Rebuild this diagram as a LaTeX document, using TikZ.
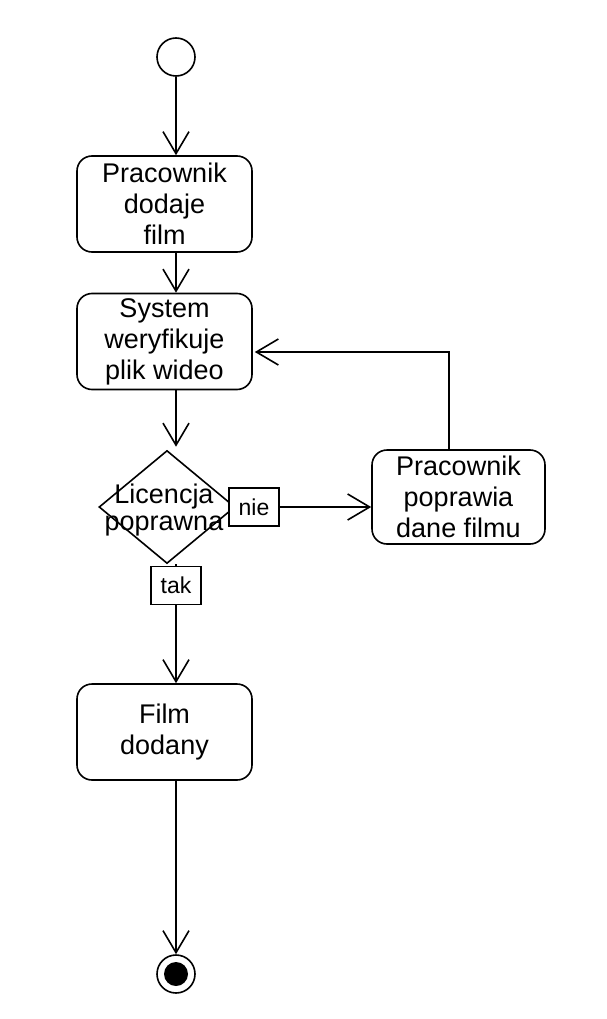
\documentclass[tikz,border=0pt]{standalone}
\usepackage{fontspec}
\setmainfont{Liberation Sans}
\usetikzlibrary{arrows.meta,shapes.geometric}
\begin{document}
\begin{tikzpicture}[x=1pt,y=-1pt,
  every path/.style={line width=1.6pt},
  act/.style={draw, line width=1.6pt, rounded corners=15pt, minimum width=175pt, minimum height=96pt, inner sep=0pt, align=center, font=\fontsize{27}{31}\selectfont},
  lab/.style={draw, fill=white, line width=1.6pt, minimum width=50pt, minimum height=38pt, inner sep=0pt, font=\fontsize{23}{25}\selectfont},
  arr/.style={line width=1.6pt, -{Straight Barb[length=22pt,width=26pt]}}]
\useasboundingbox (0,0) rectangle (606,1019);
% nodes
\node[circle, draw, line width=1.6pt, minimum size=38pt, inner sep=0pt] (start) at (176,57) {};
\node[act] (a1) at (164.5,204) {Pracownik\\dodaje\\film};
\node[act] (a2) at (164.5,341.5) {System\\weryfikuje\\plik wideo};
\node[diamond, draw, line width=1.6pt, minimum width=136pt, minimum height=113pt, inner sep=0pt] (dec) at (167,507) {};
\node[align=center, font=\fontsize{27}{27}\selectfont, inner sep=0pt] (dect) at (164,510) {Licencja\\poprawna};
\node[lab] (nie) at (254,507) {nie};
\node[lab] (tak) at (176,585.5) {tak};
\node[act, minimum width=173pt, minimum height=94pt] (a3) at (458.5,497) {Pracownik\\poprawia\\dane filmu};
\node[act] (a4) at (164.5,732) {Film\\dodany};
\node[circle, draw, line width=1.6pt, minimum size=38pt, inner sep=0pt] (end) at (176,974) {};
\node[circle, fill=black, minimum size=24pt, inner sep=0pt] (endin) at (end.center) {};
% connectors
\draw[arr] (start.south) -- (start.south |- a1.north);
\draw[arr] (a1.south -| start) -- (a2.north -| start);
\draw[arr] (a2.south -| start) -- ([yshift=3pt]dec.north -| start);
\draw (dec.south -| tak) -- (tak.north);
\draw[arr] (tak.south) -- (tak.south |- a4.north);
\draw[arr] (a4.south -| end) -- (end.north);
\draw[arr] (nie.east) -- (nie.east -| a3.west);
\draw[arr] ([xshift=-9.5pt]a3.north) |- ([yshift=-10.5pt,xshift=2pt]a2.east);
\end{tikzpicture}
\end{document}
